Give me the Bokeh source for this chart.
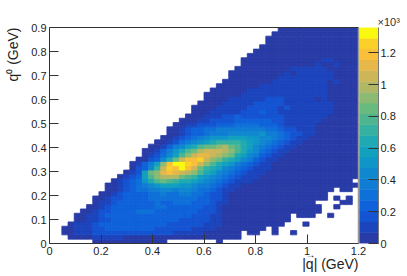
from bokeh.embed import file_html
from bokeh.resources import INLINE
from bokeh.plotting import figure
from bokeh.models import (ColumnDataSource, Range1d, LinearAxis, FixedTicker, Label, Span,
                          LinearColorMapper)
from bokeh.transform import transform
from math import pi

# histogram grid
x_max = 1.2
y_max = 0.9
n_bins = 50
z_max = 1.36   # colour scale top, in units of 10^3
n_levels = 20

x_ticks = [0, 0.2, 0.4, 0.6, 0.8, 1.0, 1.2]
x_tick_labels = ["0", "0.2", "0.4", "0.6", "0.8", "1", "1.2"]
y_ticks = [0, 0.1, 0.2, 0.3, 0.4, 0.5, 0.6, 0.7, 0.8, 0.9]
y_tick_labels = ["0", "0.1", "0.2", "0.3", "0.4", "0.5", "0.6", "0.7", "0.8", "0.9"]
z_ticks = [0, 0.2, 0.4, 0.6, 0.8, 1.0, 1.2]
z_tick_labels = ["0", "0.2", "0.4", "0.6", "0.8", "1", "1.2"]

palette = ["#283ba6", "#1c44bd", "#1454d2", "#0f62da", "#0e70d8", "#0f7dd3", "#1088cf",
           "#0f95c8", "#12a0bf", "#1fa9b3", "#35b1a2", "#4db690", "#69ba7f", "#8dba72",
           "#b0b866", "#cdb658", "#e6b84a", "#f9bf3b", "#fbd028", "#f9f90f"]

# first filled column of each row, bottom row first
row_start = [7, 3, 2, 2, 3, 4, 4, 5, 6, 7, 7, 8, 9, 9, 10, 11, 12, 13, 13, 14, 15, 15, 16, 17, 18,
             19, 19, 20, 21, 22, 23, 23, 24, 25, 25, 26, 27, 28, 29, 29, 30, 31, 31, 32, 33, 34,
             35, 35, 36, 37]

# colour level of each bin from row_start onward (base-20 digits); the tail is level 0
r00 = "0"
r01 = "000011111"
r02 = "00111222222222222211111"
r03 = "00111223333333322222" + "21111"
r04 = "0111233333333333222222111"
r05 = "00112233333333333222221" + "1"
r06 = "001123" + "3333333333333" + "22211"
r07 = "001223333444333333322" + "21"
r08 = "00123333333443333332" + "21"
r09 = "0112333333433" + "4443332" + "11"
r10 = "0012233334444444433" + "221"
r11 = "001233334454455443" + "221"
r12 = "00123445566566544" + "3211"
r13 = "001234567888776554" + "3211"
r14 = "0123479bcba998765432111"
r15 = "01238bdeeecba8765432111"
r16 = "0128cdghgfedb9865432111"
r17 = "02" + "36afihjhfca9865432111"
r18 = "01358dhjjihfdb987543211"
r19 = "002369cfhhifdca98653211"
r20 = "012468bdfggfedc98653211"
r21 = "0013579bcefffedb97643211"
r22 = "00135689bccdecb986543211"
r23 = "001245" + "6789aaaa98765432" + "11"
r24 = "001234567778887766543211"
r25 = "001233455566666755432211"
r26 = "001233445555555544322111"
r27 = "00112223334444333211111"
r28 = "00011222233333322111111"
r29 = "00011122322222221111111"
r30 = "00011111222322111111111"
r31 = "00001111122222121111111"
r32 = "0000111112222211111111"
r33 = "00001111112221111" + "101"
r34 = "00000011111111111111"
r35 = "000000" + "1111111111111"
r36 = "0000000" + "11111111111"
r37 = "00000000" + "111111111" + "01"
r38 = "00000000" + "111111111"
r39 = "000000000" + "1" + "0" + "111111"
r40 = "000000000" + "111111"
r41 = "000000000000" + "1" + "00" + "1"
r42 = "0000000000000" + "11"
r43 = "0"
r44 = "0"
r45 = "0"
r46 = "0"
r47 = "0"
r48 = "0"
r49 = "0"
rows = [r00, r01, r02, r03, r04, r05, r06, r07, r08, r09, r10, r11, r12, r13, r14, r15, r16, r17,
        r18, r19, r20, r21, r22, r23, r24, r25, r26, r27, r28, r29, r30, r31, r32, r33, r34, r35,
        r36, r37, r38, r39, r40, r41, r42, r43, r44, r45, r46, r47, r48, r49]

# empty bins on the lower right: row -> columns
empty_bins = {
    0: list(range(19, 27)) + list(range(28, 50)),
    1: list(range(31, 50)),
    2: [31, 34, 35, 37, 38] + list(range(40, 50)),
    3: [35] + list(range(37, 50)),
    4: [38, 39, 40] + list(range(42, 50)),
    5: list(range(39, 50)),
    6: [39, 43, 44, 46, 47, 48, 49],
    7: list(range(44, 50)),
    8: [44, 45, 47, 48, 49],
    9: [43, 44, 45, 46, 49],
    10: [45, 47, 49],
    11: [45, 46, 47, 48, 49],
    12: [46, 49],
    14: [49],
}

digits = "0123456789abcdefghij"
band = z_max / n_levels
dx = x_max / n_bins
dy = y_max / n_bins

left, right, bottom, top, zval = [], [], [], [], []
for r, (start, text) in enumerate(zip(row_start, rows)):
    for c in range(start, n_bins):
        if c in empty_bins.get(r, []):
            continue
        i = c - start
        level = digits.index(text[i]) if i < len(text) else 0
        left.append(c * dx)
        right.append((c + 1) * dx)
        bottom.append(r * dy)
        top.append((r + 1) * dy)
        zval.append((level + 0.5) * band)

source = ColumnDataSource(dict(left=left, right=right, bottom=bottom, top=top, z=zval))
mapper = LinearColorMapper(palette=palette, low=0, high=z_max)

W = 407
H = 276
frame_w = 329
p = figure(width=W, height=H,
           x_range=Range1d(0, x_max * frame_w / 309), y_range=Range1d(0, y_max),
           toolbar_location=None, output_backend="svg", x_axis_location=None, y_axis_location=None,
           min_border_left=49, min_border_right=W - 49 - frame_w, min_border_top=27,
           min_border_bottom=H - 27 - 216)
p.xgrid.visible = False
p.ygrid.visible = False
p.outline_line_color = None
p.background_fill_color = "white"

p.quad(left="left", right="right", bottom="bottom", top="top", source=source,
       fill_color=transform("z", mapper), line_color=transform("z", mapper), line_width=0.8)

# colour scale strip
p.extra_y_ranges = {"cb": Range1d(0, z_max)}
strip = ColumnDataSource(dict(
    left=[1.2039] * n_levels, right=[x_max * frame_w / 309] * n_levels,
    bottom=[i * band for i in range(n_levels)], top=[(i + 1) * band for i in range(n_levels)],
    color=palette))
p.quad(left="left", right="right", bottom="bottom", top="top", color="color", source=strip,
       y_range_name="cb", line_width=0.5)

font = "Liberation Sans"
ink = "#333333"


def style(ax, size, minor):
    ax.axis_line_color = ink
    ax.major_tick_line_color = ink
    ax.minor_tick_line_color = "#555555"
    ax.major_tick_in = size
    ax.major_tick_out = 0
    ax.minor_tick_in = minor
    ax.minor_tick_out = 0
    ax.major_label_text_font = font
    ax.major_label_text_font_size = "11px"
    ax.major_label_text_color = "#222222"
    ax.major_label_standoff = 3


xaxis = LinearAxis(ticker=FixedTicker(ticks=x_ticks, num_minor_ticks=4), bounds=(0, x_max))
xaxis.major_label_overrides = dict(zip(x_ticks, x_tick_labels))
style(xaxis, 9, 4)
p.add_layout(xaxis, "below")

yaxis = LinearAxis(ticker=FixedTicker(ticks=y_ticks, num_minor_ticks=5))
yaxis.major_label_overrides = dict(zip(y_ticks, y_tick_labels))
style(yaxis, 9, 5)
p.add_layout(yaxis, "left")

topaxis = LinearAxis(ticker=FixedTicker(ticks=[]), bounds=(0, x_max))
topaxis.axis_line_color = ink
topaxis.major_label_text_font_size = "0px"
topaxis.major_tick_line_color = None
topaxis.minor_tick_line_color = None
p.add_layout(topaxis, "above")

zaxis = LinearAxis(y_range_name="cb", ticker=FixedTicker(ticks=z_ticks, num_minor_ticks=0))
zaxis.major_label_overrides = dict(zip(z_ticks, z_tick_labels))
style(zaxis, 10, 0)
zaxis.axis_line_color = "#777777"
zaxis.major_label_standoff = 2
p.add_layout(zaxis, "right")

p.add_layout(Span(location=x_max, dimension="height", line_color="#999999", line_width=1.5))

# texts outside the frame live in the side panels
p.add_layout(Label(x=309, y=10, x_units="screen", y_units="screen",
                   text="|q| (GeV)", text_font=font, text_font_size="14px", text_color="#222222",
                   text_align="right", text_baseline="middle"), "below")
p.add_layout(Label(x=0, y=216, x_units="screen", y_units="screen", angle=pi / 2,
                   text="q\u2070 (GeV)", text_font=font, text_font_size="14px", text_color="#222222",
                   text_align="right", text_baseline="middle"), "left")
p.add_layout(Label(x=328, y=0, x_units="screen", y_units="screen",
                   text="\u00d710\u00b3", text_font=font, text_font_size="11px", text_color="#333333",
                   text_align="left", text_baseline="bottom"), "above")
p.add_layout(Label(x=261, y=-239, x_units="screen", y_units="screen",
                   text="\u2192", text_font=font, text_font_size="10px", text_color="#222222",
                   text_align="center", text_baseline="middle"), "above")

open("out.html", "w").write(file_html(p, INLINE))
